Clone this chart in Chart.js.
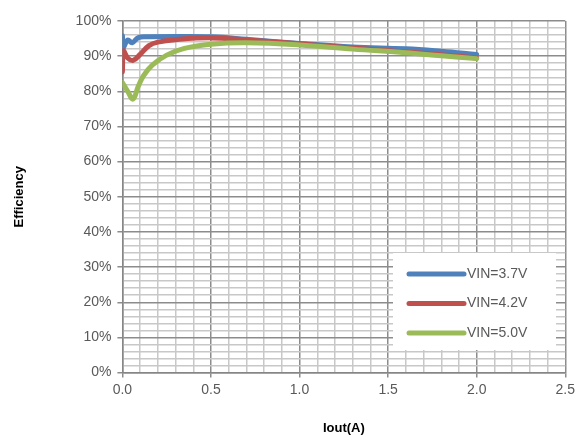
<!DOCTYPE html>
<html>
<head>
<meta charset="utf-8">
<script src="https://cdn.jsdelivr.net/npm/chart.js@4.4.0/dist/chart.umd.min.js"></script>
<style>
  html, body { margin: 0; padding: 0; background: #fff; }
  #wrap { width: 579px; height: 436px; }
</style>
</head>
<body>
<div id="wrap"><canvas id="effChart" width="579" height="436"></canvas></div>
<script>
// series (Iout in A, efficiency in %)
const seriesNames = ['VIN=3.7V', 'VIN=4.2V', 'VIN=5.0V'];
const seriesColors = ['#4F81BD', '#C0504D', '#9BBB59'];

const iout37 = [0, 0.005, 0.03, 0.055, 0.09, 0.15, 0.3, 0.5, 0.7, 1.0, 1.3, 1.6, 1.8, 2.0];
const eff37 = [95.8, 92.5, 94.6, 93.8, 95.3, 95.5, 95.6, 95.5, 94.8, 93.6, 92.6, 92.1, 91.4, 90.5];

const iout42 = [0, 0.005, 0.03, 0.06, 0.1, 0.15, 0.2, 0.3, 0.5, 0.7, 1.0, 1.3, 1.6, 1.8, 2.0];
const eff42 = [85.5, 91.5, 89.5, 88.8, 90.5, 93, 94, 94.7, 95.2, 94.6, 93.5, 92.3, 91.2, 90.4, 89.5];

const iout50 = [0, 0.03, 0.06, 0.09, 0.12, 0.17, 0.25, 0.35, 0.5, 0.7, 1.0, 1.3, 1.6, 1.8, 2.0];
const eff50 = [82.5, 80, 77.8, 81.5, 84.5, 87.5, 90.3, 92.2, 93.4, 93.8, 93.2, 92, 91, 90.1, 89.3];

const xTicks = ['0.0', '0.5', '1.0', '1.5', '2.0', '2.5'];
const yTicks = ['0%', '10%', '20%', '30%', '40%', '50%', '60%', '70%', '80%', '90%', '100%'];

function toPoints(xs, ys) {
    return xs.map((x, i) => ({ x: x, y: ys[i] }));
}

const allX = [iout37, iout42, iout50];
const allY = [eff37, eff42, eff50];

const datasets = seriesNames.map((name, i) => ({
    label: name,
    data: toPoints(allX[i], allY[i]),
    borderColor: seriesColors[i],
    backgroundColor: seriesColors[i],
    borderWidth: 5,
    pointRadius: 0,
    showLine: true,
    tension: 0.4,
    borderCapStyle: 'round',
    borderJoinStyle: 'round',
    order: 3 - i
}));

// legend box inside the plot, lower right
const insideLegend = {
    id: 'insideLegend',
    afterDatasetsDraw(chart) {
        const c = chart.ctx;
        const x0 = 393, y0 = 253, w = 163, h = 97;
        c.save();
        c.fillStyle = '#ffffff';
        c.fillRect(x0, y0, w, h);
        c.font = '14px "Liberation Sans", Arial, sans-serif';
        c.textBaseline = 'middle';
        seriesNames.forEach((name, i) => {
            const y = y0 + 21 + i * 29.5;
            c.strokeStyle = seriesColors[i];
            c.lineWidth = 5;
            c.lineCap = 'round';
            c.beginPath();
            c.moveTo(x0 + 16, y);
            c.lineTo(x0 + 71, y);
            c.stroke();
            c.fillStyle = '#595959';
            c.fillText(name, x0 + 74, y);
        });
        c.restore();
    }
};

function isMajor(v, step) {
    return Math.abs(v / step - Math.round(v / step)) < 1e-6;
}

new Chart(document.getElementById('effChart').getContext('2d'), {
    type: 'scatter',
    data: { datasets: datasets },
    plugins: [insideLegend],
    options: {
        responsive: false,
        animation: false,
        layout: { padding: { left: 12, right: 13, top: 21, bottom: 0 } },
        plugins: {
            legend: { display: false },
            tooltip: { enabled: false }
        },
        scales: {
            x: {
                type: 'linear',
                min: 0,
                max: 2.5,
                ticks: {
                    stepSize: 0.1,
                    autoSkip: false,
                    maxRotation: 0,
                    color: '#595959',
                    font: { family: '"Liberation Sans", Arial, sans-serif', size: 14 },
                    padding: 4,
                    callback: (v) => isMajor(v, 0.5) ? xTicks[Math.round(v / 0.5)] : ''
                },
                grid: {
                    color: (ctx) => isMajor(ctx.tick.value, 0.5) ? '#8c8c8c' : '#c8c8c8',
                    lineWidth: 1.5,
                    tickLength: 5,
                    tickColor: (ctx) => isMajor(ctx.tick.value, 0.5) ? '#8c8c8c' : 'rgba(0,0,0,0)'
                },
                border: { color: '#868686', width: 1.5 },
                title: {
                    display: true,
                    text: 'Iout(A)',
                    color: '#000',
                    font: { family: '"Liberation Sans", Arial, sans-serif', size: 13, weight: 'bold' },
                    padding: { top: 18, bottom: 0 }
                }
            },
            y: {
                min: 0,
                max: 100,
                ticks: {
                    stepSize: 2,
                    autoSkip: false,
                    color: '#595959',
                    font: { family: '"Liberation Sans", Arial, sans-serif', size: 14 },
                    padding: 6,
                    callback: (v) => isMajor(v, 10) ? yTicks[Math.round(v / 10)] : ''
                },
                grid: {
                    color: (ctx) => isMajor(ctx.tick.value, 10) ? '#8c8c8c' : '#c8c8c8',
                    lineWidth: 1.5,
                    tickLength: 5,
                    tickColor: (ctx) => isMajor(ctx.tick.value, 10) ? '#8c8c8c' : 'rgba(0,0,0,0)'
                },
                border: { color: '#868686', width: 1.5 },
                title: {
                    display: true,
                    text: 'Efficiency',
                    color: '#000',
                    font: { family: '"Liberation Sans", Arial, sans-serif', size: 13, weight: 'bold' },
                    padding: { top: 0, bottom: 42 }
                }
            }
        }
    }
});
</script>
</body>
</html>
